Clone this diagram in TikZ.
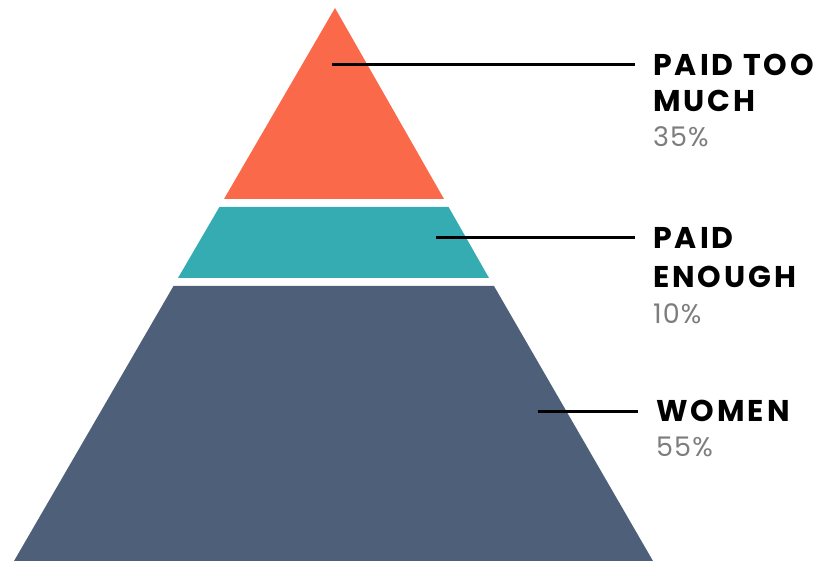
\documentclass[tikz,border=0pt]{standalone}
\usepackage{fontspec}
\setmainfont{Poppins}
\newfontfamily\headfont{Poppins}[LetterSpace=10]
\newfontfamily\sharefont{Poppins}[LetterSpace=4]
\definecolor{toporange}{RGB}{250,106,74}
\definecolor{midteal}{RGB}{52,172,178}
\definecolor{baseslate}{RGB}{78,96,121}
\definecolor{sharegray}{RGB}{125,125,125}

\begin{document}
\begin{tikzpicture}[x=1pt,y=-1pt]
\tikzstyle{title}=[anchor=west, inner xsep=18pt, inner ysep=0pt, font=\headfont\fontsize{30}{30}\selectfont\bfseries]
\tikzstyle{second}=[title, anchor=base west]
\tikzstyle{share}=[anchor=base west, inner xsep=18pt, inner ysep=0pt, text=sharegray, font=\sharefont\fontsize{27}{27}\selectfont]
\tikzstyle{connect}=[line width=3pt, black]
\useasboundingbox (0,0) rectangle (827,561);
% pyramid bands
\fill[toporange] (335,8) -- (444,199) -- (224,199) -- cycle;
\fill[midteal] (219.4,207) -- (448.6,207) -- (489,278) -- (178,278) -- cycle;
\fill[baseslate] (173.5,286) -- (494,286) -- (653,561) -- (14,561) -- cycle;
% labels
  \node[title] (toomuch) at (635,65) {PAID TOO};
  \node[second] (toomuch2) at ([yshift=-36pt]toomuch.base west) {MUCH};
  \node[share] (toomuchpc) at ([yshift=-35pt]toomuch2.base west) {35\%};
  \node[title] (enough) at (635,238) {PAID};
  \node[second] (enough2) at ([yshift=-39pt]enough.base west) {ENOUGH};
  \node[share] (enoughpc) at ([yshift=-36pt]enough2.base west) {10\%};
  \node[title] (women) at (638,411) {WOMEN};
  \node[share] (womenpc) at ([yshift=-35pt]women.base west) {55\%};
  \coordinate (c1) at (332,65);
  \coordinate (c2) at (436,238);
  \coordinate (c3) at (538,411);
  \path (c1) edge[connect] (toomuch.west)
        (c2) edge[connect] (enough.west)
        (c3) edge[connect] (women.west)
        ;
\end{tikzpicture}
\end{document}
